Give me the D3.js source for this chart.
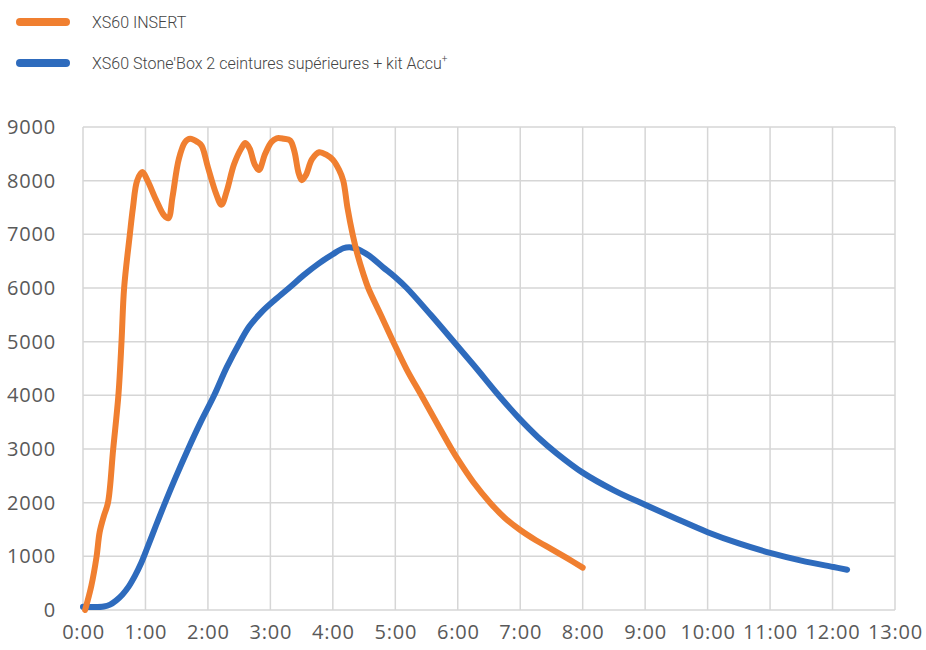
<!DOCTYPE html>
<html>
<head>
<meta charset="utf-8">
<script src="https://cdn.jsdelivr.net/npm/d3@7"></script>
<style>
  body { margin: 0; background: #fff; }
</style>
</head>
<body>
<div id="chart"></div>
<script>
// series names
var seriesNames = ["XS60 INSERT", "XS60 Stone'Box 2 ceintures supérieures + kit Accu"];

// time in minutes, value
var insertMinutes = [2, 8, 13, 16, 20, 24, 29, 34, 37, 39.5, 45, 48, 52, 57, 62, 70, 78, 82, 86, 92, 98, 103, 110, 114, 120, 128, 133, 138, 145, 152, 156, 160, 165, 169, 175, 181, 186, 193, 199, 203, 207, 210, 214, 220, 227, 234, 240, 246, 250, 254, 259, 264, 269, 274, 286, 298, 311, 325, 340, 354, 360, 375, 391, 405, 420, 435, 450, 465, 480];
var insertValues  = [0, 450, 990, 1450, 1750, 2000, 3000, 4000, 5000, 6000, 7000, 7500, 8000, 8160, 8000, 7650, 7350, 7300, 7700, 8400, 8720, 8780, 8720, 8650, 8250, 7750, 7550, 7800, 8300, 8600, 8700, 8600, 8300, 8200, 8500, 8720, 8790, 8780, 8750, 8550, 8150, 8010, 8100, 8400, 8530, 8480, 8390, 8200, 8000, 7500, 7000, 6600, 6280, 6000, 5500, 5000, 4480, 4000, 3480, 3000, 2810, 2380, 2000, 1720, 1490, 1300, 1135, 965, 790];

var stoneMinutes = [0, 10, 20, 26, 32, 38, 44, 50, 56, 62, 70, 77, 89, 101, 113, 126, 138, 151, 160, 172, 185, 199, 212, 226, 240, 250, 256, 263, 275, 288, 300, 311, 334, 357, 378, 398, 419, 437, 455, 480, 510, 540, 570, 600, 630, 661, 690, 721, 734];
var stoneValues  = [60, 55, 65, 100, 180, 290, 440, 640, 880, 1170, 1570, 1910, 2470, 3000, 3500, 4000, 4520, 5000, 5290, 5560, 5790, 6020, 6240, 6450, 6630, 6740, 6760, 6730, 6600, 6390, 6200, 6000, 5500, 4980, 4500, 4030, 3570, 3220, 2920, 2560, 2230, 1960, 1700, 1450, 1240, 1060, 920, 800, 750];

var xTicks = d3.range(0, 781, 60);
var yTicks = d3.range(0, 9001, 1000);

var colors = ["#f07f30", "#2e6bbd"];

var width = 926, height = 650;
var svg = d3.select("#chart")
  .append("svg")
    .attr("width", width)
    .attr("height", height);

var x = d3.scaleLinear().domain([0, 780]).range([83, 895]);
var y = d3.scaleLinear().domain([0, 9000]).range([610, 127]);

// grid
svg.append("g")
  .selectAll("line")
  .data(yTicks)
  .enter()
  .append("line")
    .attr("x1", x(0)).attr("x2", x(780))
    .attr("y1", function(d) { return y(d) }).attr("y2", function(d) { return y(d) })
    .attr("stroke", "#d6d6d6")
    .attr("stroke-width", 1.5);

svg.append("g")
  .selectAll("line")
  .data(xTicks)
  .enter()
  .append("line")
    .attr("x1", function(d) { return x(d) }).attr("x2", function(d) { return x(d) })
    .attr("y1", y(0)).attr("y2", y(9000))
    .attr("stroke", "#d6d6d6")
    .attr("stroke-width", 1.5);

// axes (labels only)
var xAxis = svg.append("g")
  .attr("transform", "translate(0," + (y(0) + 8) + ")")
  .call(d3.axisBottom(x).tickValues(xTicks).tickSize(0)
    .tickFormat(function(d) { return (d / 60) + ":00" }));
var yAxis = svg.append("g")
  .attr("transform", "translate(" + (x(0) - 24) + ",0)")
  .call(d3.axisLeft(y).tickValues(yTicks).tickSize(0).tickFormat(d3.format("d")));

[xAxis, yAxis].forEach(function(g) {
  g.select(".domain").remove();
  g.selectAll("text")
    .style("font-family", "'Open Sans', sans-serif")
    .style("font-size", "20px")
    .style("letter-spacing", "0.8px")
    .attr("fill", "#595959");
});
xAxis.selectAll("text").attr("dy", "0.9em");

// lines
var line = d3.line()
  .x(function(d) { return x(d.t) })
  .y(function(d) { return y(d.v) })
  .curve(d3.curveCatmullRom.alpha(0.5));

var stoneData = stoneMinutes.map(function(t, i) { return {t: t, v: stoneValues[i]} });
var insertData = insertMinutes.map(function(t, i) { return {t: t, v: insertValues[i]} });

svg.append("path")
  .datum(stoneData)
  .attr("d", line)
  .attr("fill", "none")
  .attr("stroke", colors[1])
  .attr("stroke-width", 6)
  .attr("stroke-linecap", "round")
  .attr("stroke-linejoin", "round");

svg.append("path")
  .datum(insertData)
  .attr("d", line)
  .attr("fill", "none")
  .attr("stroke", colors[0])
  .attr("stroke-width", 6)
  .attr("stroke-linecap", "round")
  .attr("stroke-linejoin", "round");

// legend
var legend = svg.append("g").attr("id", "legend");
var legendY = [22, 63];
seriesNames.forEach(function(name, i) {
  legend.append("line")
    .attr("x1", 20).attr("x2", 66)
    .attr("y1", legendY[i]).attr("y2", legendY[i])
    .attr("stroke", colors[i])
    .attr("stroke-width", 8)
    .attr("stroke-linecap", "round");
  var t = legend.append("text")
    .attr("x", 92).attr("y", legendY[i])
    .attr("dominant-baseline", "central")
    .style("font-family", "Roboto, sans-serif")
    .style("font-weight", 300)
    .style("font-size", "16px")
    .attr("fill", "#444")
    .text(name);
  if (i == 1) {
    t.append("tspan")
      .attr("dy", -5)
      .style("font-size", "10px")
      .text("+");
  }
});
</script>
</body>
</html>
